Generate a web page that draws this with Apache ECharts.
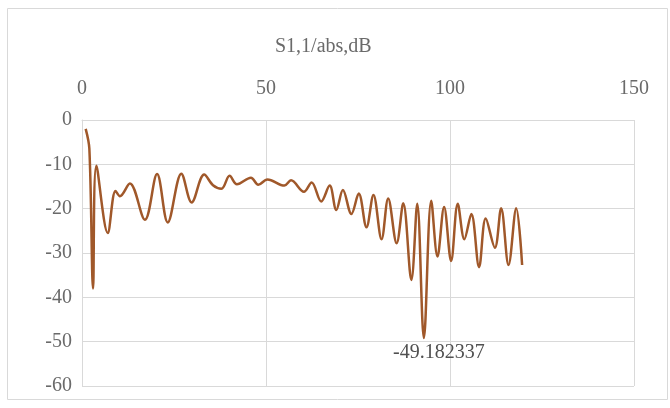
<!DOCTYPE html>
<html>
<head>
<meta charset="utf-8">
<script src="https://cdn.jsdelivr.net/npm/echarts@6/dist/echarts.min.js"></script>
<style>html,body{margin:0;padding:0;background:#fff}#c{width:670px;height:408px}</style>
</head>
<body>
<div id="c"></div>
<script>
const chartTitle = "S1,1/abs,dB";
const xValues = [1, 2, 3, 3.9, 7, 9.1, 10.3, 13, 17.1, 20.4, 23.3, 27, 29.8, 33.2, 35.6, 37.9, 40.1, 42.1, 45.9, 47.9, 50.4, 55, 56.8, 60.3, 62.4, 65, 67.3, 69.1, 70.9, 73.2, 75.2, 77.3, 79.2, 81.4, 83.2, 85.5, 87.3, 89.5, 91.1, 92.9, 94.9, 96.6, 98.4, 100.3, 102.1, 103.9, 105.8, 107.9, 109.7, 112.2, 113.9, 115.9, 118, 119.6];
const yValues = [-2, -6.5, -38, -10.3, -25.5, -16, -17.2, -14.3, -22.5, -12.2, -23.1, -12.1, -18.6, -12.3, -14.7, -15.5, -12.6, -14.5, -13, -14.6, -13.4, -14.8, -13.6, -16.2, -14.1, -18.4, -14.8, -20.3, -15.8, -21.2, -16.6, -24.2, -16.9, -26.9, -17.7, -27.8, -18.8, -36.1, -18.9, -49.182337, -18.2, -30.8, -19.6, -31.8, -18.9, -26.9, -21.2, -33.2, -22.2, -28.8, -19.9, -32.7, -19.9, -32.7];
const minLabel = "-49.182337";
const xTicks = [0, 50, 100, 150];
const yTicks = [0, -10, -20, -30, -40, -50, -60];

const minIdx = yValues.indexOf(Math.min(...yValues));
const seriesData = xValues.map((x, i) => [x, yValues[i]]);

const chart = echarts.init(document.getElementById('c'), null, {renderer: 'canvas'});
const labelFont = {fontFamily: 'Liberation Serif', fontSize: 20, color: '#6a6a6a'};
chart.setOption({
  animation: false,
  title: {
    text: chartTitle, left: 270, top: 32,
    textStyle: {fontFamily: 'Liberation Serif', fontSize: 20, fontWeight: 'normal', color: '#6a6a6a'}
  },
  graphic: [{
    type: 'rect', shape: {x: 7.5, y: 8.5, width: 660, height: 391},
    style: {fill: 'none', stroke: '#d9d9d9', lineWidth: 1}, silent: true
  }],
  grid: {left: 82, right: 36, top: 120, bottom: 22, containLabel: false},
  xAxis: {
    type: 'value', position: 'top', min: xTicks[0], max: xTicks[xTicks.length - 1], interval: 50,
    axisLine: {show: true, lineStyle: {color: '#d9d9d9'}},
    axisTick: {show: false},
    axisLabel: Object.assign({margin: 21}, labelFont),
    splitLine: {show: true, lineStyle: {color: '#d9d9d9', width: 1}}
  },
  yAxis: {
    type: 'value', min: yTicks[yTicks.length - 1], max: yTicks[0], interval: 10,
    axisLine: {show: true, lineStyle: {color: '#d9d9d9'}},
    axisTick: {show: false},
    axisLabel: Object.assign({margin: 10}, labelFont),
    splitLine: {show: true, lineStyle: {color: '#d9d9d9', width: 1}}
  },
  series: [{
    type: 'line', data: seriesData, smooth: 0.35, showSymbol: false, symbol: 'none',
    lineStyle: {color: '#A0582A', width: 2.5},
    itemStyle: {color: '#A0582A'},
    markPoint: {
      symbol: 'circle', symbolSize: 0,
      data: [{coord: seriesData[minIdx], value: minLabel}],
      label: {
        show: true, position: 'bottom', offset: [15, 0], formatter: minLabel,
        fontFamily: 'Liberation Serif', fontSize: 20, color: '#505050'
      }
    }
  }]
});
</script>
</body>
</html>
